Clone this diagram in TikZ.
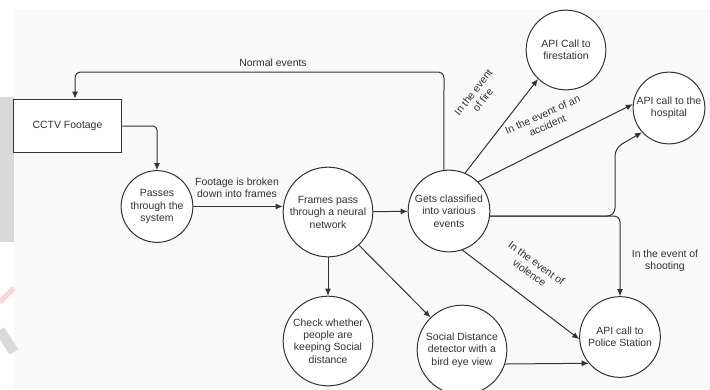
\documentclass[tikz,border=0pt]{standalone}
\usepackage{fontspec}
\setmainfont{Liberation Sans}
\usetikzlibrary{arrows.meta}
\definecolor{fond}{HTML}{F9F9F9}
\definecolor{trait}{HTML}{333333}
\definecolor{bande}{HTML}{D9D9D9}
\definecolor{rose}{HTML}{F9D5D8}
\begin{document}
\begin{tikzpicture}[x=1bp,y=-1bp]
	\tikzstyle{lien}=[-{Latex[length=7bp,width=6bp]},line width=1bp,draw=trait]
	\tikzset{etat/.style={draw=trait,circle,fill=white,line width=1bp,minimum size=#1,inner sep=0pt,align=center,text=trait,font=\fontsize{10.5}{12.5}\selectfont},etat/.default={80}}
	\tikzset{etiq/.style={align=center,text=trait,inner sep=1pt,font=\fontsize{10.5}{12}\selectfont}}
	\useasboundingbox (0,0) rectangle (710,389);
	% fond de la page
	\fill[fond] (14,9) rectangle (710,389);
	\fill[bande] (0,97) rectangle (14,242);
	\draw[rose,line width=5bp] (0,302) -- (14,288);
	\draw[bande,line width=10bp] (0,330) -- (14,352);
	\node[draw=trait,fill=white,line width=1bp,minimum width=109,minimum height=54,text=trait,font=\fontsize{10.5}{12.5}\selectfont] (cctv) at (67.5,126) {CCTV Footage};
	\node[etat=72] (sys) at (157,206.5) {Passes\\through the\\system};
	\node[etat=90] (nn) at (328,212) {Frames pass\\through a neural\\network};
	\node[etat=82] (cls) at (449,211) {Gets classified\\into various\\events};
	\node[etat=80] (feu) at (566,50) {API Call to\\firestation};
	\node[etat=72] (hop) at (669,108) {API call to the\\hospital};
	\node[etat=90] (chk) at (328,341) {Check whether\\people are\\keeping Social\\distance};
	\node[etat=90] (sd) at (462,350) {Social Distance\\detector with a\\bird eye view};
	\node[etat=81] (pol) at (620,337) {API call to\\Police Station};
	\coordinate (h1) at (444,72);
	\coordinate (h2) at (75,72);
	\coordinate (j2) at (615,148);
	\draw[lien,rounded corners=6] (cls.97) -- (h1) -- (h2) -- (cctv.north -| h2);
	\draw[lien,rounded corners=4] (cctv.east) -| (sys.north);
	\draw[lien] (sys.east) -- (sys.east -| nn.west);
	\draw[lien] (nn) -- (cls);
	\draw[lien] (nn) -- (chk);
	\draw[lien] (nn.-47) -- (sd.134);
	\draw[lien] (cls.67) -- (feu.226);
	\draw[lien] (cls.45) -- (hop.174);
	\draw[lien] (cls.-71) -- (pol.183);
	\draw[lien,rounded corners=6] (cls.-7) -| (pol.north);
	\draw[lien,rounded corners=8] (cls.-7) -| (j2) -- (hop.222);
	\draw[lien] (sd.-18) -- (pol.220);
	\node[etiq] (tnorm) at (273,63) {Normal events};
	\node[etiq] (tfoot) at (237,188) {Footage is broken\\down into frames};
	\node[etiq,rotate=52] (tfeu) at (478,96) {In the event\\of fire};
	\node[etiq,rotate=24] (tacc) at (545,120) {In the event of an\\accident};
	\node[etiq,rotate=-36] (tvio) at (533,268) {In the event of\\violence};
	\node[etiq] (ttir) at (665,261) {In the event of\\shooting};
\end{tikzpicture}
\end{document}
